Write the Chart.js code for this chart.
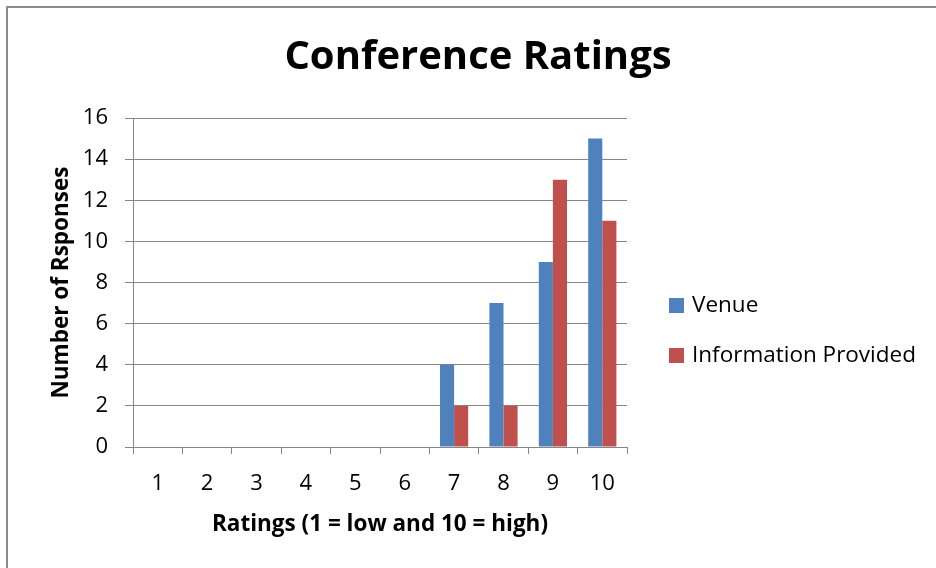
<!DOCTYPE html>
<html>
<head>
<meta charset="utf-8">
<title>Conference Ratings</title>
<script src="https://cdn.jsdelivr.net/npm/chart.js@4/dist/chart.umd.min.js"></script>
<style>
  html, body { margin: 0; padding: 0; background: #fff; }
  #wrap { position: relative; width: 936px; height: 568px; }
  #frame {
    position: absolute; left: 6px; top: 6px; width: 1000px; height: 1000px;
    border-left: 2px solid #8c8c8c; border-top: 2px solid #8c8c8c;
    pointer-events: none;
  }
</style>
</head>
<body>
<div id="wrap">
  <canvas id="ratingsChart" width="936" height="568"></canvas>
  <div id="frame"></div>
</div>
<script>
// chart data
const categories = ["1", "2", "3", "4", "5", "6", "7", "8", "9", "10"];
const venueCounts = [0, 0, 0, 0, 0, 0, 4, 7, 9, 15];
const infoCounts = [0, 0, 0, 0, 0, 0, 2, 2, 13, 11];
const seriesNames = ["Venue", "Information Provided"];
const seriesColors = ["#4f81bd", "#c0504d"];
const yMin = 0, yMax = 16, yStep = 2;

const FONT = "'Open Sans', sans-serif";
const GRID = "#868686";

// legend drawn to the right of the plot, like the Excel original
const sideLegend = {
  id: "sideLegend",
  afterDraw(chart) {
    const ctx = chart.ctx;
    ctx.save();
    ctx.font = "22.5px " + FONT;
    ctx.textBaseline = "middle";
    chart.data.datasets.forEach((ds, i) => {
      const y = 305 + i * 50;
      ctx.fillStyle = ds.backgroundColor;
      ctx.fillRect(669, y - 7, 15, 15);
      ctx.fillStyle = "#000";
      ctx.fillText(ds.label, 692, y + 1);
    });
    ctx.restore();
  }
};

new Chart(document.getElementById("ratingsChart"), {
  type: "bar",
  data: {
    labels: categories,
    datasets: [
      { label: seriesNames[0], data: venueCounts, backgroundColor: seriesColors[0], yAxisID: "y" },
      { label: seriesNames[1], data: infoCounts, backgroundColor: seriesColors[1], yAxisID: "y" }
    ]
  },
  options: {
    responsive: false,
    animation: false,
    events: [],
    categoryPercentage: 0.571,
    barPercentage: 1,
    layout: { padding: { left: 20, top: 0, right: 0, bottom: 0 } },
    plugins: {
      legend: { display: false },
      tooltip: { enabled: false },
      title: {
        display: true,
        text: "Conference Ratings",
        color: "#000",
        font: { family: FONT, size: 40, weight: "bold" },
        padding: { top: 34, bottom: 36 }
      }
    },
    scales: {
      x: {
        afterFit: scale => { scale.height = 121; },
        grid: { drawOnChartArea: false, drawTicks: true, tickLength: 7, color: GRID, offset: true },
        border: { display: true, color: GRID },
        ticks: { color: "#000", font: { family: FONT, size: 22 }, padding: 17, maxRotation: 0 },
        title: {
          display: true,
          text: "Ratings (1 = low and 10 = high)",
          color: "#000",
          font: { family: FONT, size: 22.5, weight: "bold" },
          padding: { top: 0, bottom: 30 }
        }
      },
      y: {
        min: yMin,
        max: yMax,
        afterFit: scale => { scale.width = 113; },
        grid: { color: GRID, tickLength: 8, drawTicks: true },
        border: { display: true, color: GRID },
        ticks: { stepSize: yStep, color: "#000", font: { family: FONT, size: 22 }, padding: 17 },
        title: {
          display: true,
          text: "Number of Rsponses",
          color: "#000",
          font: { family: FONT, size: 22.5, weight: "bold" },
          padding: { top: 28, bottom: 0 }
        }
      },
      // empty right-hand box that reserves the legend column
      side: {
        position: "right",
        afterFit: scale => { scale.width = 309; },
        grid: { display: false },
        border: { display: false },
        ticks: { display: false }
      }
    }
  },
  plugins: [sideLegend]
});
</script>
</body>
</html>
